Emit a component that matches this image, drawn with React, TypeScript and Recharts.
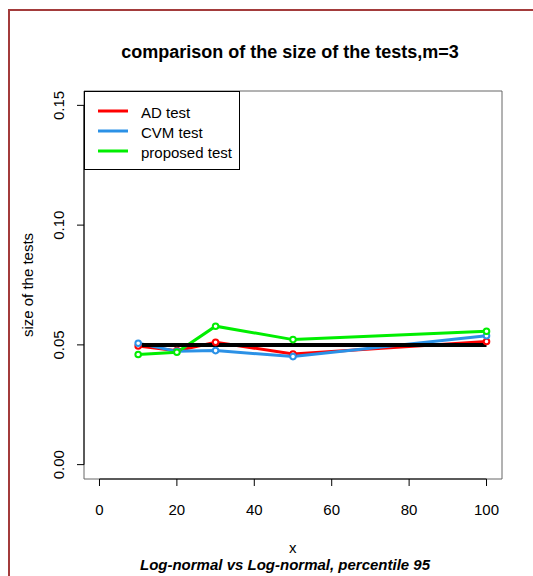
import { LineChart, Line, XAxis, YAxis, ReferenceArea, ReferenceLine } from "recharts";

const sampleSizes = [10, 20, 30, 50, 100];
const adTest = [0.0495, 0.0476, 0.0511, 0.0462, 0.0514];
const cvmTest = [0.0507, 0.0473, 0.0476, 0.0451, 0.0538];
const proposedTest = [0.046, 0.0469, 0.0578, 0.0522, 0.0557];
const nominalX = [10, 100];
const nominalLevel = 0.05;

const xTicks = [0, 20, 40, 60, 80, 100];
const yTicks = [0, 0.05, 0.1, 0.15];
const xDomain = [-4, 104];
const yDomain = [-0.006, 0.156];

const series = [
  { key: "ad", name: "AD test", color: "#ff0000", values: adTest },
  { key: "cvm", name: "CVM test", color: "#2b91e6", values: cvmTest },
  { key: "proposed", name: "proposed test", color: "#00ee00", values: proposedTest },
];

const rows = sampleSizes.map((x, i) => ({
  x,
  ad: adTest[i],
  cvm: cvmTest[i],
  proposed: proposedTest[i],
}));
const nominalRows = nominalX.map((x) => ({ x, nominal: nominalLevel }));

const FONT = "'Liberation Sans', Arial, Helvetica, sans-serif";

function XTick(props: any) {
  return (
    <text x={props.x} y={515} textAnchor="middle" fontSize={15} fontFamily={FONT} fill="#000">
      {props.payload.value}
    </text>
  );
}

function YTick(props: any) {
  return (
    <text
      x={64}
      y={props.y}
      transform={`rotate(-90, 64, ${props.y})`}
      textAnchor="middle"
      fontSize={15}
      fontFamily={FONT}
      fill="#000"
    >
      {props.payload.value.toFixed(2)}
    </text>
  );
}

export default function App() {
  return (
    <div style={{ position: "absolute", left: 0, top: 0, width: 533, height: 576, overflow: "hidden", background: "#fff" }}>
      <div
        style={{
          position: "absolute",
          left: 8,
          top: 9,
          width: 560,
          height: 600,
          borderLeft: "2px solid #a33b3b",
          borderTop: "2px solid #a33b3b",
        }}
      />
      <div style={{ position: "absolute", left: 0, top: 0 }}>
        <LineChart width={533} height={576} margin={{ top: 91, right: 31, left: 34, bottom: 67 }}>
          <XAxis
            dataKey="x"
            type="number"
            domain={xDomain}
            ticks={xTicks}
            allowDataOverflow
            axisLine={false}
            tickLine={{ stroke: "#000" }}
            tickSize={7}
            tick={<XTick />}
            height={30}
          />
          <YAxis
            type="number"
            domain={yDomain}
            ticks={yTicks}
            allowDataOverflow
            axisLine={false}
            tickLine={{ stroke: "#000" }}
            tickSize={7}
            tick={<YTick />}
            width={50}
          />
          <ReferenceArea
            x1={xDomain[0]}
            x2={xDomain[1]}
            y1={yDomain[0]}
            y2={yDomain[1]}
            fill="none"
            stroke="#666"
            strokeWidth={1}
            ifOverflow="visible"
          />
          <ReferenceLine
            segment={[
              { x: xDomain[0], y: yTicks[0] },
              { x: xDomain[0], y: yTicks[yTicks.length - 1] },
            ]}
            stroke="#000"
            ifOverflow="visible"
          />
          <ReferenceLine
            segment={[
              { x: xTicks[0], y: yDomain[0] },
              { x: xTicks[xTicks.length - 1], y: yDomain[0] },
            ]}
            stroke="#000"
            ifOverflow="visible"
          />
          {series.map((s) => (
            <Line
              key={s.key}
              data={rows}
              dataKey={s.key}
              name={s.name}
              stroke={s.color}
              strokeWidth={3}
              dot={{ r: 2.8, strokeWidth: 2, fill: "#fff", stroke: s.color }}
              isAnimationActive={false}
            />
          ))}
          <Line
            data={nominalRows}
            dataKey="nominal"
            stroke="#000"
            strokeWidth={4}
            dot={false}
            legendType="none"
            isAnimationActive={false}
          />
        </LineChart>
      </div>
      <svg
        width={533}
        height={576}
        style={{ position: "absolute", left: 0, top: 0, pointerEvents: "none" }}
        fontFamily={FONT}
      >
        <text x={290} y={58} textAnchor="middle" fontSize={18} fontWeight="bold">
          comparison of the size of the tests,m=3
        </text>
        <text x={292.7} y={553} textAnchor="middle" fontSize={15}>
          x
        </text>
        <text x={285} y={570} textAnchor="middle" fontSize={15} fontWeight="bold" fontStyle="italic">
          Log-normal vs Log-normal, percentile 95
        </text>
        <text transform="translate(33,285) rotate(-90)" textAnchor="middle" fontSize={15}>
          size of the tests
        </text>
        <rect x={84.5} y={91.5} width={155} height={78} fill="#fff" stroke="#000" strokeWidth={1} />
        {series.map((s, i) => (
          <g key={s.key}>
            <line x1={98} x2={128} y1={111 + i * 20} y2={111 + i * 20} stroke={s.color} strokeWidth={3} />
            <text x={141} y={118 + i * 20} fontSize={15}>
              {s.name}
            </text>
          </g>
        ))}
      </svg>
    </div>
  );
}
